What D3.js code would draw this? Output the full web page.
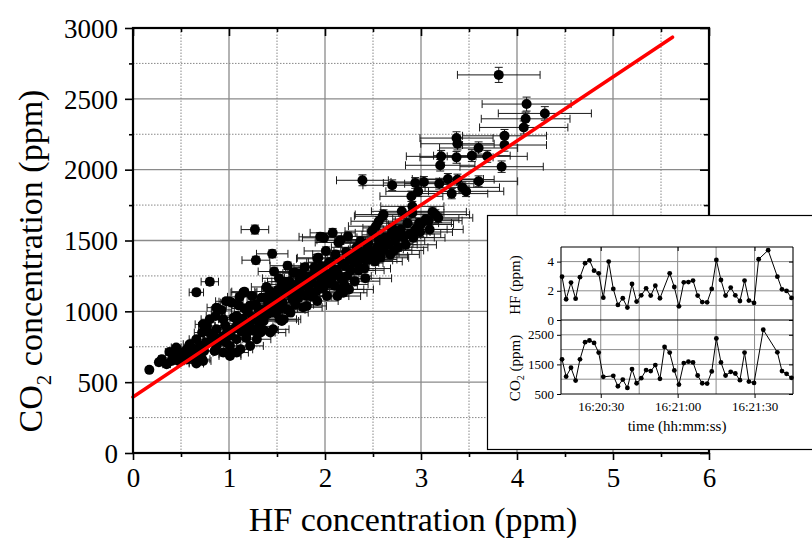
<!DOCTYPE html>
<html><head><meta charset="utf-8">
<script src="https://cdn.jsdelivr.net/npm/d3@7"></script>
<style>
body{margin:0;background:#fff}
svg{display:block}
text{font-family:"Liberation Serif","Times New Roman",serif;fill:#000}
</style>
</head><body>
<svg id="c" width="812" height="538"></svg>
<script>
// ---------- main scatter data (HF ppm, CO2 ppm), paired ----------
const hfConc = [3.81,4.10,4.29,4.09,4.07,3.87,3.87,3.37,3.38,3.60,3.21,3.37,3.53,3.69,3.20,3.84,
2.70,2.94,3.03,3.19,3.28,3.38,3.60,3.43,3.47,3.32,2.90,2.97,2.80,2.91,3.12,3.15,2.61,
2.39,2.91,2.60,2.56,2.53,2.70,2.79,3.00,2.75,2.49,1.95,2.08,2.16,2.37,2.56,2.44,2.53,1.93,2.04,2.32,2.47,2.58,
1.27,1.45,1.28,0.80,0.66,
1.92,1.67,1.55,1.16,1.01,1.10,1.34,1.45,1.22,1.74,1.85,2.09,2.16,0.80,0.94,0.73,1.05,1.26,1.40,1.53,1.64,1.81,1.92,2.02,2.23,2.30,2.25,2.13,1.46,1.33,
0.17,0.30,0.38,0.42,0.35,0.51,0.56,0.63,0.66,0.72,0.59,0.66,0.72,0.77,0.86,1.08,0.87,0.98,1.08,1.01,0.94,1.08,0.87,0.82,1.19,1.33,1.40,1.46,1.53,1.57,1.43,1.29,1.22,1.01,1.12,
1.01,0.66,0.73,0.99,1.15,1.03,1.69,1.55,1.81,1.95,2.19,
1.62,1.71,1.78,1.88,1.97,2.06,2.12,2.21,2.27,2.34,2.41,2.46,2.52,2.61,2.66,2.73,2.82,2.88,2.33,2.22,2.11,2.01,1.89,1.83,1.73,1.68,1.91,2.04,2.31,2.42,
1.58,1.49,1.41,1.31,1.19,1.14,1.09,1.61,1.69,1.77,1.21,1.31,1.36,2.57,2.68,2.76,2.94,3.05,2.98,3.09,2.63,2.86,1.52,1.39,1.24,1.11,0.92,0.97,0.87,1.47,1.61,1.58,
0.48,0.52,0.45,0.61,0.70,0.76,0.93,1.18,1.26,1.36,1.49,1.66,1.86,1.96,2.17,2.28,2.38,2.14,1.79,1.99,2.24,
0.44,0.55,0.62,0.68,0.74,0.79,0.84,0.90,0.96,1.02,1.06,1.13,1.16,1.24,1.28,1.34,1.38,1.43,1.51,1.56,1.63,1.65,1.72,1.76,1.81,1.87,1.93,1.98,2.03,2.07,
2.14,2.18,2.26,2.35,2.43,2.49,2.55,2.62,2.69,2.72,2.78,2.84,2.92,2.99,3.08,3.18,2.45,2.36,1.72,1.84,1.95,2.10,2.20,1.54,1.45,1.33,1.17,0.97,0.85,0.56,0.40,0.27];
const co2Conc = [2669,2463,2397,2359,2298,2239,2174,2223,2183,2153,2094,2087,2099,2094,2031,2021,
1890,1906,1913,1901,1934,1930,1918,1875,1847,1831,1812,1847,1706,1695,1702,1683,1683,
1925,1741,1671,1636,1601,1589,1577,1613,1554,1566,1526,1554,1502,1495,1507,1448,1437,1378,1343,1390,1366,1378,
1577,1406,1361,1209,1134,
1371,1273,1190,1139,1068,1042,1096,1108,1042,1143,1202,1296,1155,944,944,908,956,944,979,944,991,1038,1073,1108,1249,1343,1155,1108,873,850,
587,662,713,685,627,709,732,674,639,662,768,803,850,897,967,967,873,850,803,756,709,709,756,803,850,944,991,1038,1061,944,850,803,756,685,732,
697,632,650,861,1132,1061,1273,932,1108,1178,1131,
1152,1188,1236,1262,1318,1347,1296,1322,1288,1341,1302,1418,1352,1433,1471,1498,1521,1546,1452,1418,1402,1426,1311,1247,1214,1171,1142,1196,1213,1233,
1131,1098,1054,1012,997,948,912,1011,1047,1029,903,894,868,1391,1402,1452,1578,1651,1624,1578,1522,1622,1233,1172,1108,1102,1010,1071,1026,1281,1322,1209,
648,661,745,712,760,781,820,812,861,932,986,1083,1105,1226,1228,1381,1391,1486,1312,1519,1529,
700,690,740,700,720,850,830,790,900,830,880,860,1020,960,1050,1010,1100,1140,1150,1060,1210,1120,1130,1270,1180,1200,1250,1160,1260,1230,
1260,1340,1370,1290,1360,1410,1460,1480,1540,1430,1560,1470,1520,1560,1640,1660,1480,1420,1090,1140,1290,1180,1190,1020,990,980,880,780,720,660,650,640];
const hfRelErr = 0.113;   // relative uncertainty of HF
const co2RelErr = 0.02;   // relative uncertainty of CO2
// linear fit CO2 = a + b*HF
const fitIntercept = 395, fitSlope = 452, fitMaxHF = 5.62;

const xMajor = [0,1,2,3,4,5,6];
const xMinor = [0.5,1.5,2.5,3.5,4.5,5.5];
const yMajor = [0,500,1000,1500,2000,2500,3000];
const yMinor = [250,750,1250,1750,2250,2750];

// ---------- inset data ----------
// seconds after 16:20:00
const hfTime = [14.9,16.5,18.4,20.2,21.9,23.9,25.6,27.4,29.2,31.0,33.1,34.9,36.7,38.6,40.4,42.2,44.0,45.8,47.7,49.5,51.3,53.1,56.9,58.7,60.5,62.4,64.2,66.0,67.8,69.6,71.5,73.3,75.1,76.9,78.7,80.7,82.5,84.3,86.1,87.8,89.8,91.6,95.3,98.9,100.7,102.5,104.4];
const hfSeries = [2.97,1.42,2.56,1.46,2.93,3.89,4.09,3.38,3.20,1.53,4.00,2.13,1.03,1.49,0.85,2.47,1.26,1.69,2.17,1.67,2.35,1.49,3.20,2.26,0.94,2.58,2.60,2.70,1.67,1.23,1.21,2.13,4.11,2.74,1.67,2.22,1.69,1.30,2.70,1.33,1.17,4.16,4.78,2.97,2.10,1.99,1.51];
const co2Time = [14.9,16.5,18.4,20.2,21.9,23.9,25.6,27.4,29.2,31.0,34.9,36.7,38.6,40.4,42.2,44.0,45.8,47.7,49.5,51.3,53.1,54.9,56.9,58.7,60.5,62.4,64.2,66.0,67.8,69.6,71.5,73.3,75.1,76.9,78.7,80.7,82.5,84.3,86.1,87.8,89.8,93.4,98.9,100.7,102.5,104.4];
const co2Series = [1670,1090,1386,955,1670,2250,2307,2227,1898,1080,1114,761,989,705,1341,864,1034,1307,1273,1477,1011,2091,1898,1295,818,1545,1591,1568,1125,864,852,1261,2375,1568,1125,1250,1193,966,1898,920,875,2670,1909,1273,1182,1045];
const insetTimeTicks = [30,60,90];
const insetTimeGrid = [30,45,60,75,90];
const insetHfTicks = [0,2,4];
const insetHfGrid = [1,2,3,4];
const insetCo2Ticks = [500,1500,2500];
const insetCo2Grid = [1000,1500,2000,2500];

// ---------- drawing ----------
const svg = d3.select("#c");
const X = d3.scaleLinear().domain([0,6]).range([133,709]);
const Y = d3.scaleLinear().domain([0,3000]).range([453,28]);
const [x0,x1] = X.range(), [y0,y1] = Y.range();

const grid = svg.append("g");
grid.selectAll(".vmin").data(xMinor).join("line")
  .attr("x1",d=>X(d)).attr("x2",d=>X(d)).attr("y1",y0).attr("y2",y1)
  .attr("stroke","#888").attr("stroke-width",1).attr("stroke-dasharray","1.5,1.5");
grid.selectAll(".hmin").data(yMinor).join("line")
  .attr("y1",d=>Y(d)).attr("y2",d=>Y(d)).attr("x1",x0).attr("x2",x1)
  .attr("stroke","#888").attr("stroke-width",1).attr("stroke-dasharray","1.5,1.5");
grid.selectAll(".vmaj").data(xMajor.slice(1,-1)).join("line")
  .attr("x1",d=>X(d)).attr("x2",d=>X(d)).attr("y1",y0).attr("y2",y1)
  .attr("stroke","#8a8a8a").attr("stroke-width",1.3);
grid.selectAll(".hmaj").data(yMajor.slice(1,-1)).join("line")
  .attr("y1",d=>Y(d)).attr("y2",d=>Y(d)).attr("x1",x0).attr("x2",x1)
  .attr("stroke","#8a8a8a").attr("stroke-width",1.3);

const pts = hfConc.map((h,i)=>({h, c: co2Conc[i]}));
const eb = svg.append("g").attr("stroke","#1a1a1a").attr("stroke-width",1).attr("fill","none");
const cap = 4;
pts.forEach(p=>{
  const px = X(p.h), py = Y(p.c);
  const xl = X(p.h*(1-hfRelErr)), xr = X(p.h*(1+hfRelErr));
  const yt = Y(p.c*(1+co2RelErr)), yb = Y(p.c*(1-co2RelErr));
  eb.append("line").attr("x1",xl).attr("x2",xr).attr("y1",py).attr("y2",py);
  eb.append("line").attr("x1",xl).attr("x2",xl).attr("y1",py-cap).attr("y2",py+cap);
  eb.append("line").attr("x1",xr).attr("x2",xr).attr("y1",py-cap).attr("y2",py+cap);
  eb.append("line").attr("x1",px).attr("x2",px).attr("y1",yt).attr("y2",yb);
  eb.append("line").attr("x1",px-cap).attr("x2",px+cap).attr("y1",yt).attr("y2",yt);
  eb.append("line").attr("x1",px-cap).attr("x2",px+cap).attr("y1",yb).attr("y2",yb);
});
svg.append("g").selectAll("circle").data(pts).join("circle")
  .attr("cx",d=>X(d.h)).attr("cy",d=>Y(d.c)).attr("r",5).attr("fill","#000");

svg.append("line")
  .attr("x1",X(0)).attr("y1",Y(fitIntercept))
  .attr("x2",X(fitMaxHF)).attr("y2",Y(fitIntercept+fitSlope*fitMaxHF))
  .attr("stroke","#f00").attr("stroke-width",3.5).attr("stroke-linecap","round");

// axes
function styleAxis(g){ g.select(".domain").remove(); g.selectAll("line").attr("stroke","#000").attr("stroke-width",1.6); }
const axL = svg.append("g").attr("transform",`translate(${x0},0)`)
  .call(d3.axisLeft(Y).tickValues(yMajor).tickSize(8).tickPadding(7).tickFormat(d3.format("d")));
styleAxis(axL);
axL.selectAll("text").attr("font-size",27).attr("dy","0.34em").style("font-family","Liberation Serif");
svg.append("g").attr("transform",`translate(${x0},0)`)
  .call(d3.axisLeft(Y).tickValues(yMinor).tickSize(4).tickFormat("")).call(styleAxis);
const axB = svg.append("g").attr("transform",`translate(0,${y0})`)
  .call(d3.axisBottom(X).tickValues(xMajor).tickSize(7).tickPadding(8).tickFormat(d3.format("d")));
styleAxis(axB);
axB.selectAll("text").attr("font-size",27).attr("dy","0.71em").style("font-family","Liberation Serif");
svg.append("g").attr("transform",`translate(0,${y0})`)
  .call(d3.axisBottom(X).tickValues(xMinor).tickSize(4).tickFormat("")).call(styleAxis);
svg.append("g").attr("transform",`translate(0,${y1})`)
  .call(d3.axisTop(X).tickValues(xMajor).tickSize(-8).tickFormat("")).call(styleAxis);
svg.append("g").attr("transform",`translate(0,${y1})`)
  .call(d3.axisTop(X).tickValues(xMinor).tickSize(-4).tickFormat("")).call(styleAxis);
svg.append("g").attr("transform",`translate(${x1},0)`)
  .call(d3.axisRight(Y).tickValues(yMajor).tickSize(-9).tickFormat("")).call(styleAxis);
svg.append("g").attr("transform",`translate(${x1},0)`)
  .call(d3.axisRight(Y).tickValues(yMinor).tickSize(-5).tickFormat("")).call(styleAxis);
svg.append("rect").attr("x",x0).attr("y",y1).attr("width",x1-x0).attr("height",y0-y1)
  .attr("fill","none").attr("stroke","#000").attr("stroke-width",2.2);

svg.append("text").attr("x",(x0+x1)/2-8).attr("y",531).attr("text-anchor","middle")
  .attr("font-size",34).text("HF concentration (ppm)");
const yt = svg.append("text").attr("transform","translate(42,261) rotate(-90)")
  .attr("text-anchor","middle").attr("font-size",34);
yt.append("tspan").text("CO");
yt.append("tspan").attr("font-size",21).attr("dy",9).text("2");
yt.append("tspan").attr("dy",-9).text(" concentration (ppm)");

// ---------- inset ----------
const ins = svg.append("g");
ins.append("rect").attr("x",487.5).attr("y",215.5).attr("width",340).attr("height",234)
  .attr("fill","#fff").attr("stroke","#000").attr("stroke-width",1.2);
const base = new Date(2000,0,1,16,20,0);
const sec = s => new Date(base.getTime()+s*1000);
const T = d3.scaleTime().domain([sec(14.5),sec(105)]).range([561,793]);
const YH = d3.scaleLinear().domain([0,5]).range([320,247]);
const YC = d3.scaleLinear().domain([500,3000]).range([394,320]);
const [tx0,tx1] = T.range();
const gcol = "#8c8c8c";
ins.selectAll(".tg").data(insetTimeGrid).join("line")
  .attr("x1",d=>T(sec(d))).attr("x2",d=>T(sec(d))).attr("y1",247).attr("y2",394)
  .attr("stroke",gcol).attr("stroke-width",1);
ins.selectAll(".hg").data(insetHfGrid).join("line")
  .attr("y1",d=>YH(d)).attr("y2",d=>YH(d)).attr("x1",tx0).attr("x2",tx1)
  .attr("stroke",gcol).attr("stroke-width",1);
ins.selectAll(".cg").data(insetCo2Grid).join("line")
  .attr("y1",d=>YC(d)).attr("y2",d=>YC(d)).attr("x1",tx0).attr("x2",tx1)
  .attr("stroke",gcol).attr("stroke-width",1);

function styleSmall(g){ g.select(".domain").remove(); g.selectAll("line").attr("stroke","#000").attr("stroke-width",1); g.selectAll("text").attr("font-size",13).style("font-family","Liberation Serif"); }
ins.append("g").attr("transform",`translate(${tx0},0)`)
  .call(d3.axisLeft(YH).tickValues(insetHfTicks).tickSize(4).tickPadding(3).tickFormat(d3.format("d"))).call(styleSmall);
ins.append("g").attr("transform",`translate(${tx0},0)`)
  .call(d3.axisLeft(YC).tickValues(insetCo2Ticks).tickSize(4).tickPadding(3).tickFormat(d3.format("d"))).call(styleSmall);
ins.append("g").attr("transform",`translate(${tx1},0)`)
  .call(d3.axisRight(YH).tickValues(insetHfTicks).tickSize(-4).tickFormat("")).call(styleSmall);
ins.append("g").attr("transform",`translate(${tx1},0)`)
  .call(d3.axisRight(YC).tickValues(insetCo2Ticks).tickSize(-4).tickFormat("")).call(styleSmall);
ins.append("g").attr("transform",`translate(0,394)`)
  .call(d3.axisBottom(T).tickValues(insetTimeTicks.map(sec)).tickSize(4).tickPadding(4).tickFormat(d3.timeFormat("%H:%M:%S"))).call(styleSmall);
ins.append("g").attr("transform",`translate(0,247)`)
  .call(d3.axisTop(T).tickValues(insetTimeTicks.map(sec)).tickSize(-4).tickFormat("")).call(styleSmall);
// panel frames
[[tx0,247,tx1,247],[tx0,320,tx1,320],[tx0,394,tx1,394],[tx0,247,tx0,394],[tx1,247,tx1,394]].forEach(l=>{
  ins.append("line").attr("x1",l[0]).attr("y1",l[1]).attr("x2",l[2]).attr("y2",l[3])
    .attr("stroke","#000").attr("stroke-width",1.1);
});
const hfPts = hfTime.map((t,i)=>({t:sec(t), v:hfSeries[i]}));
const coPts = co2Time.map((t,i)=>({t:sec(t), v:co2Series[i]}));
ins.append("path").datum(hfPts).attr("fill","none").attr("stroke","#000").attr("stroke-width",1)
  .attr("d",d3.line().x(d=>T(d.t)).y(d=>YH(d.v)));
ins.append("path").datum(coPts).attr("fill","none").attr("stroke","#000").attr("stroke-width",1)
  .attr("d",d3.line().x(d=>T(d.t)).y(d=>YC(d.v)));
ins.append("g").selectAll("circle").data(hfPts).join("circle")
  .attr("cx",d=>T(d.t)).attr("cy",d=>YH(d.v)).attr("r",2.4).attr("fill","#000");
ins.append("g").selectAll("circle").data(coPts).join("circle")
  .attr("cx",d=>T(d.t)).attr("cy",d=>YC(d.v)).attr("r",2.4).attr("fill","#000");

ins.append("text").attr("x",(tx0+tx1)/2).attr("y",431).attr("text-anchor","middle")
  .attr("font-size",15).text("time (hh:mm:ss)");
ins.append("text").attr("transform","translate(520,285) rotate(-90)").attr("text-anchor","middle")
  .attr("font-size",15).text("HF (ppm)");
const ct = ins.append("text").attr("transform","translate(520,368) rotate(-90)").attr("text-anchor","middle")
  .attr("font-size",15);
ct.append("tspan").text("CO");
ct.append("tspan").attr("font-size",10).attr("dy",4).text("2");
ct.append("tspan").attr("dy",-4).text(" (ppm)");
</script>
</body></html>
